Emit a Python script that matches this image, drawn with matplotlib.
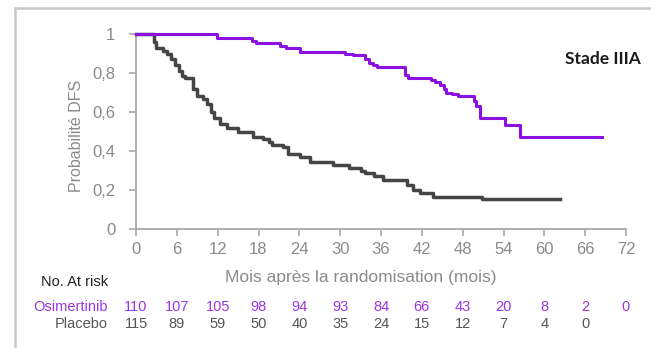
import matplotlib
matplotlib.use("Agg")
import matplotlib.pyplot as plt
from matplotlib.lines import Line2D
import numpy as np

plt.rcParams['font.family'] = ['Liberation Sans Narrow', 'Liberation Sans', 'DejaVu Sans']

# Kaplan-Meier steps: (month, DFS probability after the event)
osi_t = [0, 11.9, 17.1, 17.6, 21.2, 22.1, 24.1, 30.7, 31.9, 33.6, 34.2, 34.8, 35.4,
         39.5, 40.0, 43.4, 44.0, 44.6, 45.2, 45.6, 46.5, 47.3, 49.6, 50.0, 50.5,
         54.2, 56.4, 68.4]
osi_s = [1.0, 0.981, 0.965, 0.952, 0.94, 0.93, 0.91, 0.90, 0.892, 0.87, 0.85, 0.84, 0.832,
         0.79, 0.773, 0.765, 0.755, 0.74, 0.72, 0.70, 0.69, 0.68, 0.655, 0.63, 0.568,
         0.533, 0.473, 0.473]

plac_t = [0, 2.7, 3.0, 4.0, 4.6, 5.2, 5.8, 6.3, 6.8, 7.2, 8.4, 8.9, 9.8, 10.5, 11.0,
          11.5, 12.3, 13.3, 15.0, 17.2, 18.7, 19.5, 20.0, 21.6, 22.4, 24.1, 25.6,
          29.0, 31.3, 33.0, 33.6, 35.0, 36.3, 39.8, 40.7, 41.7, 43.6, 50.8, 62.3]
plac_s = [1.0, 0.96, 0.927, 0.915, 0.90, 0.87, 0.84, 0.81, 0.785, 0.773, 0.72, 0.68,
          0.665, 0.64, 0.60, 0.568, 0.54, 0.52, 0.50, 0.473, 0.46, 0.448, 0.431, 0.42,
          0.385, 0.371, 0.345, 0.328, 0.311, 0.30, 0.285, 0.27, 0.251, 0.225, 0.20,
          0.183, 0.166, 0.152, 0.152]

# number at risk every 6 months
risk_months = np.arange(0, 73, 6)
osi_risk = [110, 107, 105, 98, 94, 93, 84, 66, 43, 20, 8, 2, 0]
plac_risk = [115, 89, 59, 50, 40, 35, 24, 15, 12, 7, 4, 0]

PURPLE = '#8c10e0'
PURPLE_TXT = '#9a34e0'
DARK = '#454545'
GREY_TXT = '#8a8a8a'
AXIS_GREY = '#a8a8a8'

fig = plt.figure(figsize=(6.51, 3.48), dpi=100)
ax = fig.add_axes([136/651, 1-229/348, 490/651, 195/348])

ax.step(plac_t, plac_s, where='post', color=DARK, linewidth=2.5, clip_on=False, zorder=3)
ax.step(osi_t, osi_s, where='post', color=PURPLE, linewidth=2.2, clip_on=False, zorder=4)

ax.set_xlim(0, 72)
ax.set_ylim(0, 1)
ax.set_xticks(np.arange(0, 73, 6))
ax.set_xticklabels([str(m) for m in range(0, 73, 6)])
yticks = [0, 0.2, 0.4, 0.6, 0.8, 1]
ax.set_yticks(yticks)
ax.set_yticklabels(['0', '0,2', '0,4', '0,6', '0,8', '1'])
ax.tick_params(axis='both', direction='out', length=5, width=1.2, color=AXIS_GREY,
               labelcolor=GREY_TXT, labelsize=12)
ax.tick_params(axis='y', pad=10)
ax.tick_params(axis='x', pad=4)
for side in ['top', 'right']:
  ax.spines[side].set_visible(False)
for side in ['left', 'bottom']:
  ax.spines[side].set_color(AXIS_GREY)
  ax.spines[side].set_linewidth(1.3)

ax.set_ylabel('Probabilité DFS', fontsize=11.5, color=GREY_TXT)
ax.yaxis.set_label_coords((76.5-136)/490, (229-136)/195)
ax.yaxis.label.set_va('center')
ax.set_xlabel('Mois après la randomisation (mois)', fontsize=12.5, color=GREY_TXT)
ax.xaxis.set_label_coords((361-136)/490, -(277.5-229)/195)
ax.xaxis.label.set_va('center')

fig.text(603/651, 1-58.5/348, 'Stade IIIA', fontsize=12.5, fontweight='bold',
         color='#1a1a1a', ha='center', va='center', family=['Lato', 'DejaVu Sans'])

# at-risk table under the axis
fig.text(108/651, 1-281.5/348, 'No. At risk', fontsize=10.5, color='#222222',
         ha='right', va='center')
fig.text(108/651, 1-307/348, 'Osimertinib', fontsize=10.5, color=PURPLE_TXT,
         ha='right', va='center')
fig.text(108/651, 1-324/348, 'Placebo', fontsize=10.5, color='#555555',
         ha='right', va='center')
trans = ax.get_xaxis_transform()
for m, n in zip(risk_months, osi_risk):
  ax.text(m, -(307-229)/195, str(n), transform=trans, fontsize=10.5, color=PURPLE_TXT,
          ha='center', va='center', clip_on=False)
for m, n in zip(risk_months, plac_risk):
  ax.text(m, -(324-229)/195, str(n), transform=trans, fontsize=10.5, color='#555555',
          ha='center', va='center', clip_on=False)

# outer frame (left and top edges)
fig.add_artist(Line2D([14.5/651, 14.5/651], [0, 1-7.5/348], transform=fig.transFigure,
                      color='#c8c8c8', linewidth=1.8))
fig.add_artist(Line2D([14.5/651, 1], [1-7.5/348, 1-7.5/348], transform=fig.transFigure,
                      color='#c8c8c8', linewidth=1.8))

plt.savefig('out.png', dpi=100)
